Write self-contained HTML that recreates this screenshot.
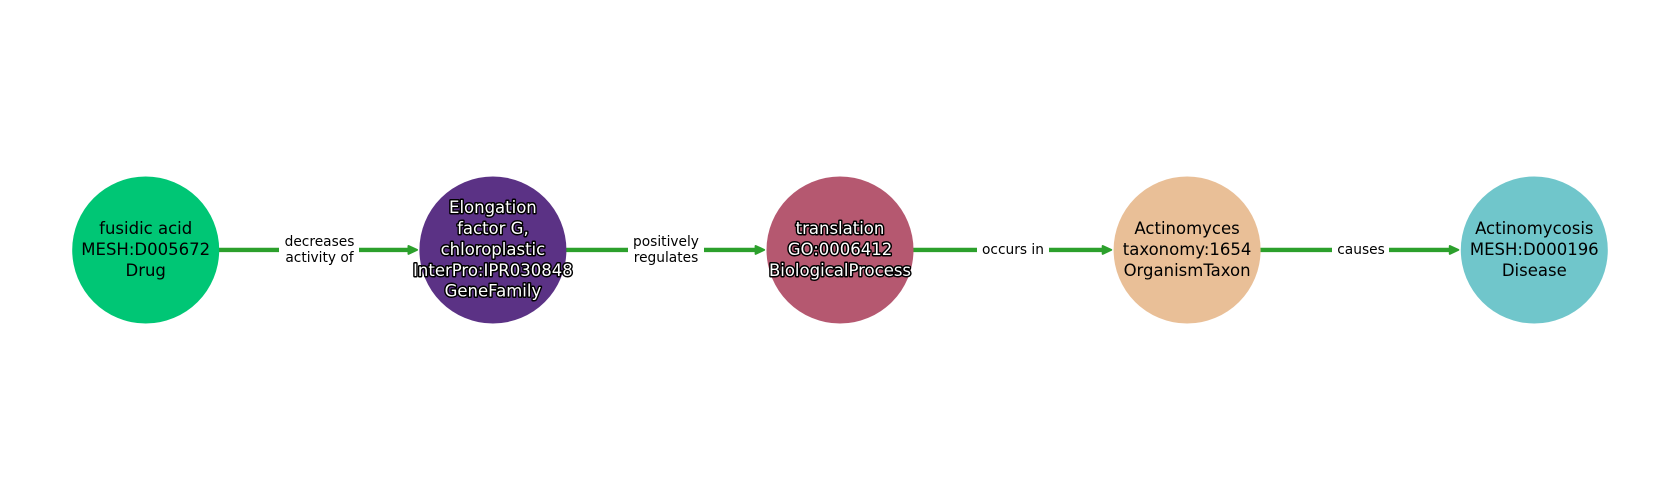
<!DOCTYPE html>
<html>
<head>
<meta charset="utf-8">
<style>
html,body{margin:0;padding:0;background:#fff;width:1680px;height:500px;overflow:hidden}
svg{display:block}
text{font-family:"DejaVu Sans",sans-serif;text-anchor:middle}
.n{font-size:16.5px;fill:#000}
.h{font-size:16.5px;fill:#fff;stroke:#000;stroke-width:2.9px;paint-order:stroke;stroke-linejoin:round}
.e{font-size:13.75px;fill:#000}
</style>
</head>
<body>
<svg width="1680" height="500" viewBox="0 0 1680 500" xmlns="http://www.w3.org/2000/svg">
<rect width="1680" height="500" fill="#fff"/>
<g fill="#2ca02c" stroke="#2ca02c" stroke-linejoin="round">
<rect x="218" y="248" width="192" height="3.8" stroke-width="0.6"/>
<path d="M408.5 246 L417 249.9 L408.5 253.8 Z" stroke-width="2"/>
<rect x="565" y="248" width="192" height="3.8" stroke-width="0.6"/>
<path d="M755.6 246 L764.1 249.9 L755.6 253.8 Z" stroke-width="2"/>
<rect x="912" y="248" width="192" height="3.8" stroke-width="0.6"/>
<path d="M1102.7 246 L1111.2 249.9 L1102.7 253.8 Z" stroke-width="2"/>
<rect x="1259" y="248" width="192" height="3.8" stroke-width="0.6"/>
<path d="M1449.8 246 L1458.3 249.9 L1449.8 253.8 Z" stroke-width="2"/>
</g>
<g fill="#fff">
<rect x="279" y="230" width="80" height="40"/>
<rect x="628" y="230" width="76" height="40"/>
<rect x="977" y="238" width="72" height="24"/>
<rect x="1332" y="238" width="57" height="24"/>
</g>
<circle cx="145.7" cy="250" r="73.5" fill="#00c675"/>
<circle cx="492.9" cy="250" r="73.5" fill="#5b3285"/>
<circle cx="840" cy="250" r="73.5" fill="#b55870"/>
<circle cx="1187.1" cy="250" r="73.5" fill="#e9bf97"/>
<circle cx="1534.3" cy="250" r="73.5" fill="#70c6cb"/>

<text class="e" x="319.5" y="246.2">decreases</text>
<text class="e" x="319.5" y="262.2">activity of</text>
<text class="e" x="666" y="246.2">positively</text>
<text class="e" x="666" y="262.2">regulates</text>
<text class="e" x="1013" y="254.2">occurs in</text>
<text class="e" x="1361" y="254.2">causes</text>

<text class="n" x="145.7" y="234">fusidic acid</text>
<text class="n" x="145.7" y="255">MESH:D005672</text>
<text class="n" x="145.7" y="275.8">Drug</text>

<text class="h" x="492.9" y="213">Elongation</text>
<text class="h" x="492.9" y="234">factor G,</text>
<text class="h" x="492.9" y="255">chloroplastic</text>
<text class="h" x="492.9" y="275.8">InterPro:IPR030848</text>
<text class="h" x="492.9" y="296.6">GeneFamily</text>

<text class="h" x="840" y="234">translation</text>
<text class="h" x="840" y="255">GO:0006412</text>
<text class="h" x="840" y="275.8">BiologicalProcess</text>

<text class="n" x="1187.1" y="234">Actinomyces</text>
<text class="n" x="1187.1" y="255">taxonomy:1654</text>
<text class="n" x="1187.1" y="275.8">OrganismTaxon</text>

<text class="n" x="1534.3" y="234">Actinomycosis</text>
<text class="n" x="1534.3" y="255">MESH:D000196</text>
<text class="n" x="1534.3" y="275.8">Disease</text>
</svg>
</body>
</html>
